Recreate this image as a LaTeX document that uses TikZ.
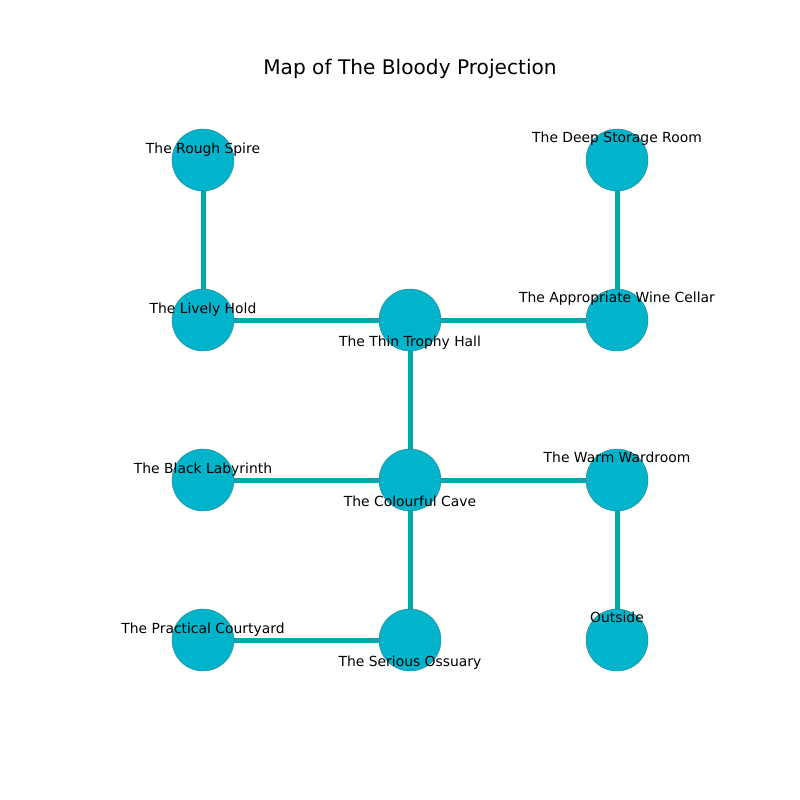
\documentclass[tikz,border=0pt]{standalone}
\usepackage{fontspec}
\setmainfont{DejaVu Sans}
\definecolor{nodefill}{RGB}{0,180,204}
\definecolor{nodeline}{RGB}{40,130,145}
\definecolor{edgecol}{RGB}{0,168,168}
\begin{document}
\begin{tikzpicture}[x=0.72pt,y=-0.72pt,
  room/.style={circle,minimum size=44.6pt,inner sep=0pt},
  disc/.style={fill=nodefill,draw=nodeline,line width=0.3pt},
  lbl/.style={font=\fontsize{10}{12}\selectfont,inner sep=0pt,text height=0.76em,text depth=0.24em},
  link/.style={edgecol,line width=3.6pt}]
\useasboundingbox (0,0) rectangle (800,800);
\node[font=\fontsize{14.5}{17}\selectfont] (title) at (410,69) {Map of The Bloody Projection};
% rooms (positions)
\node[room] (rs) at (203,160) {};
\node[room] (ds) at (617,160) {};
\node[room] (lh) at (203,320) {};
\node[room] (th) at (410,320) {};
\node[room] (aw) at (617,320) {};
\node[room] (bl) at (203,480) {};
\node[room] (cc) at (410,480) {};
\node[room] (ww) at (617,480) {};
\node[room] (pc) at (203,640) {};
\node[room] (so) at (410,640) {};
\node[room] (out) at (617,640) {};
% links
\draw[link] (rs.center) -- (lh.center);
\draw[link] (ds.center) -- (aw.center);
\draw[link] (lh.center) -- (th.center);
\draw[link] (th.center) -- (aw.center);
\draw[link] (th.center) -- (cc.center);
\draw[link] (bl.center) -- (cc.center);
\draw[link] (cc.center) -- (ww.center);
\draw[link] (cc.center) -- (so.center);
\draw[link] (ww.center) -- (out.center);
\draw[link] (pc.center) -- (so.center);
% discs on top of links
\foreach \n in {rs,ds,lh,th,aw,bl,cc,ww,pc,so,out}
  \path[disc] (\n.center) circle (31);
% labels
\node[lbl] (lrs) at (203,150) {The Rough Spire};
\node[lbl] (lds) at (617,139) {The Deep Storage Room};
\node[lbl] (llh) at (203,310) {The Lively Hold};
\node[lbl] (lth) at (410,343) {The Thin Trophy Hall};
\node[lbl] (law) at (617,299) {The Appropriate Wine Cellar};
\node[lbl] (lbl) at (203,470) {The Black Labyrinth};
\node[lbl] (lcc) at (410,503) {The Colourful Cave};
\node[lbl] (lww) at (617,459) {The Warm Wardroom};
\node[lbl] (lpc) at (203,630) {The Practical Courtyard};
\node[lbl] (lso) at (410,663) {The Serious Ossuary};
\node[lbl] (lout) at (617,619) {Outside};
\end{tikzpicture}
\end{document}
